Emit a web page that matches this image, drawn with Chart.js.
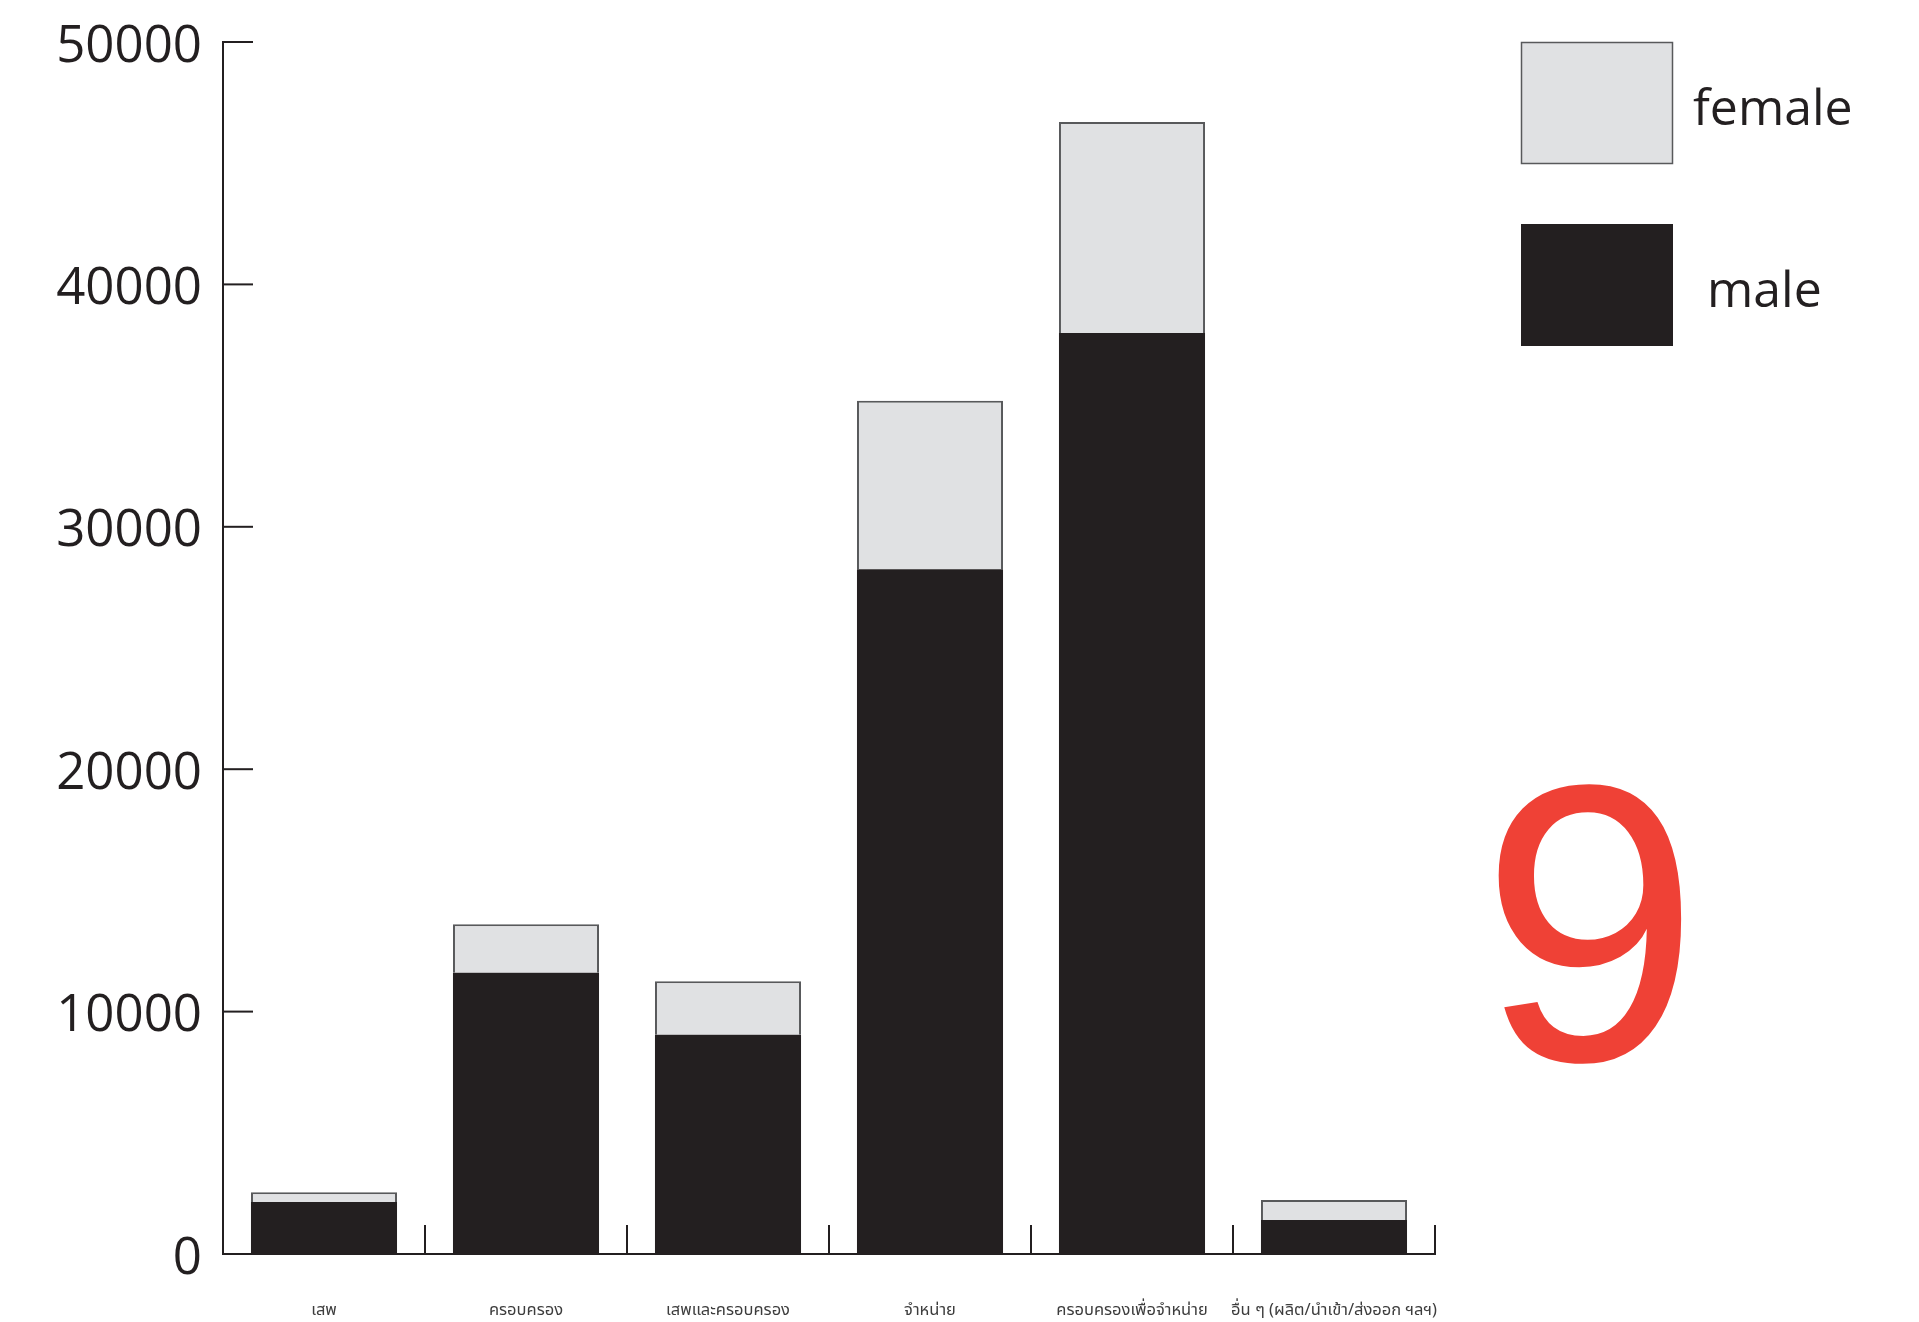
<!DOCTYPE html>
<html>
<head>
<meta charset="utf-8">
<script src="https://cdn.jsdelivr.net/npm/chart.js@4.4.1/dist/chart.umd.min.js"></script>
<style>
    html, body { margin: 0; padding: 0; background: #ffffff; overflow: hidden; }
    canvas { display: block; }
</style>
</head>
<body>
<canvas id="drugChart" width="1919" height="1322"></canvas>
<script>
const categories = ['เสพ', 'ครอบครอง', 'เสพและครอบครอง', 'จำหน่าย', 'ครอบครองเพื่อจำหน่าย', 'อื่น ๆ (ผลิต/นำเข้า/ส่งออก ฯลฯ)'];
const maleValues = [2150, 11600, 9050, 28250, 38000, 1400];
const femaleValues = [400, 2000, 2200, 6950, 8700, 830];
const yTickValues = [0, 10000, 20000, 30000, 40000, 50000];
const yTickLabels = ['0', '10000', '20000', '30000', '40000', '50000'];
const pageNumber = '9';

const INK = '#231f20';
const FEMALE_FILL = '#e0e1e3';

// inward ticks, legend and the big page number
const decorPlugin = {
    id: 'decor',
    afterDraw(chart) {
        const ctx = chart.ctx;
        const x = chart.scales.x;
        const y = chart.scales.y;
        const area = chart.chartArea;
        ctx.save();
        ctx.strokeStyle = INK;
        ctx.lineWidth = 2;

        // y ticks pointing right, into the plot
        yTickValues.forEach(v => {
            if (v === 0) return;
            const py = y.getPixelForValue(v);
            ctx.beginPath();
            ctx.moveTo(area.left, py);
            ctx.lineTo(area.left + 30, py);
            ctx.stroke();
        });

        // x ticks on category boundaries, pointing up
        for (let i = 1; i <= categories.length; i++) {
            const px = (i < categories.length)
                ? (x.getPixelForTick(i - 1) + x.getPixelForTick(i)) / 2
                : x.getPixelForTick(i - 1) + (x.getPixelForTick(1) - x.getPixelForTick(0)) / 2;
            ctx.beginPath();
            ctx.moveTo(px, area.bottom);
            ctx.lineTo(px, area.bottom - 29);
            ctx.stroke();
        }

        // legend, female on top
        const items = chart.data.datasets.slice().reverse();
        items.forEach((ds, i) => {
            const top = 42 + i * 182;
            ctx.fillStyle = ds.backgroundColor;
            ctx.fillRect(1521, top, 152, 122);
            if (ds.borderWidth) {
                ctx.lineWidth = 1.5;
                ctx.strokeStyle = ds.borderColor;
                ctx.strokeRect(1521.5, top + 0.5, 151, 121);
            }
            ctx.fillStyle = INK;
            ctx.font = '50px "Open Sans"';
            ctx.textAlign = 'left';
            ctx.textBaseline = 'alphabetic';
            ctx.fillText(ds.label, i === 0 ? 1693 : 1707, top + 83);
        });

        ctx.fillStyle = '#ef4136';
        ctx.font = '300 395px "Liberation Sans", Arial, sans-serif';
        ctx.textAlign = 'center';
        ctx.fillText(pageNumber, 1590, 1060);
        ctx.restore();
    }
};

const ctx = document.getElementById('drugChart').getContext('2d');
const chart = new Chart(ctx, {
    type: 'bar',
    data: {
        labels: categories,
        datasets: [{
            label: 'male',
            data: maleValues,
            backgroundColor: INK,
            borderWidth: 0,
            barPercentage: 0.723,
            categoryPercentage: 1
        }, {
            label: 'female',
            data: femaleValues,
            backgroundColor: FEMALE_FILL,
            borderColor: '#58595b',
            borderWidth: 2,
            barPercentage: 0.723,
            categoryPercentage: 1
        }]
    },
    options: {
        responsive: false,
        devicePixelRatio: 1,
        animation: false,
        layout: {
            padding: { top: 42, right: 484, bottom: 0, left: 0 }
        },
        plugins: {
            legend: { display: false },
            tooltip: { enabled: false }
        },
        scales: {
            x: {
                stacked: true,
                grid: { display: false, drawTicks: false },
                border: { display: true, color: INK, width: 2 },
                ticks: {
                    padding: 48,
                    color: '#3d3d3d',
                    maxRotation: 0,
                    autoSkip: false,
                    font: { family: '"Noto Sans Thai", Loma, Garuda, "Tlwg Typo", sans-serif', size: 16.5 }
                },
                afterFit(scale) { scale.height = 68; }
            },
            y: {
                stacked: true,
                min: 0,
                max: 50000,
                grid: { display: false, drawTicks: false },
                border: { display: true, color: INK, width: 2 },
                afterBuildTicks(scale) {
                    scale.ticks = yTickValues.map(v => ({ value: v }));
                },
                ticks: {
                    padding: 21,
                    labelOffset: 5,
                    color: INK,
                    font: { family: '"Open Sans"', size: 51 },
                    callback: function (value) {
                        const i = yTickValues.indexOf(value);
                        return i >= 0 ? yTickLabels[i] : '';
                    }
                },
                afterFit(scale) {
                    scale.width = 223;
                    scale.paddingTop = 0;
                    scale.paddingBottom = 0;
                }
            }
        }
    },
    plugins: [decorPlugin]
});
</script>
</body>
</html>
